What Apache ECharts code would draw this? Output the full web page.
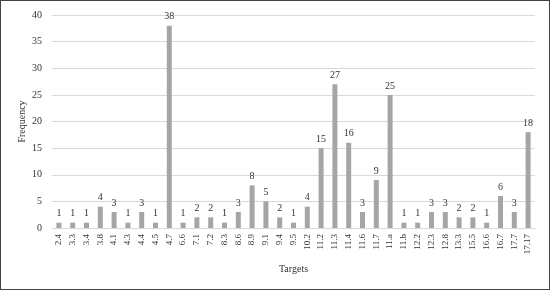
<!DOCTYPE html>
<html><head><meta charset="utf-8">
<script src="https://cdn.jsdelivr.net/npm/echarts@6/dist/echarts.min.js"></script>
<style>html,body{margin:0;padding:0;background:#fff}#c{width:550px;height:290px;box-sizing:border-box;border:1px solid #444}</style>
</head><body><div id="c"></div>
<script>
const categories = ['2.4','3.3','3.4','3.8','4.1','4.3','4.4','4.5','4.7','6.6','7.1','7.2','8.3','8.6','8.9','9.1','9.4','9.5','10.2','11.2','11.3','11.4','11.6','11.7','11.a','11.b','12.2','12.3','12.8','13.3','15.5','16.6','16.7','17.7','17.17'];
const values = [1,1,1,4,3,1,3,1,38,1,2,2,1,3,8,5,2,1,4,15,27,16,3,9,25,1,1,3,3,2,2,1,6,3,18];
const yTicks = {min:0, max:40, interval:5};
const font = 'Liberation Serif';
const chart = echarts.init(document.getElementById('c'), null, {renderer:'canvas'});
chart.setOption({
  animation:false,
  grid:{left:51, right:14, top:14, bottom:61},
  xAxis:{type:'category', data:categories, name:'Targets', nameLocation:'middle', nameGap:36,
    nameTextStyle:{fontFamily:font, fontSize:10, color:'#333'},
    axisLine:{lineStyle:{color:'#d9d9d9'}}, axisTick:{show:false},
    axisLabel:{rotate:90, interval:0, fontFamily:font, fontSize:9, color:'#333', margin:6}},
  yAxis:{type:'value', min:yTicks.min, max:yTicks.max, interval:yTicks.interval, name:'Frequency', nameLocation:'middle', nameGap:25, nameMoveOverlap:false,
    nameTextStyle:{fontFamily:font, fontSize:10, color:'#333'},
    axisLine:{show:false}, axisTick:{show:false},
    splitLine:{lineStyle:{color:'#d9d9d9'}},
    axisLabel:{fontFamily:font, fontSize:10, color:'#333', margin:10}},
  series:[{type:'bar', data:values, barWidth:5, itemStyle:{color:'#a5a5a5'},
    label:{show:true, position:'top', distance:4, fontFamily:font, fontSize:10, color:'#333'}}]
});
</script></body></html>
